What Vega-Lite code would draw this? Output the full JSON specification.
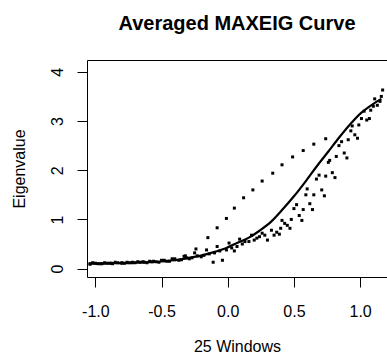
{
  "$schema": "https://vega.github.io/schema/vega-lite/v6.json",
  "autosize": "none",
  "width": 300,
  "height": 217,
  "padding": {"left": 87, "top": 60, "right": 0, "bottom": 79},
  "background": "white",
  "title": {"text": "Averaged MAXEIG Curve", "font": "Liberation Sans", "fontSize": 20, "fontWeight": "bold", "color": "black", "anchor": "middle", "offset": 10, "baseline": "alphabetic"},
  "config": {
    "view": {"stroke": "black", "strokeWidth": 1},
    "axis": {"labelFont": "Liberation Sans", "titleFont": "Liberation Sans", "labelFontSize": 16, "titleFontSize": 16, "titleFontWeight": "normal", "labelColor": "black", "titleColor": "black", "tickColor": "black", "tickSize": 10, "domain": false, "grid": false}
  },
  "datasets": {
    "win": [
      {"s": "w1", "x": -1.04, "y": 0.10}, {"s": "w1", "x": -0.96, "y": 0.10}, {"s": "w1", "x": -0.88, "y": 0.11}, {"s": "w1", "x": -0.80, "y": 0.12}, {"s": "w1", "x": -0.72, "y": 0.13}, {"s": "w1", "x": -0.64, "y": 0.14}, {"s": "w1", "x": -0.56, "y": 0.15}, {"s": "w1", "x": -0.48, "y": 0.17}, {"s": "w1", "x": -0.40, "y": 0.20}, {"s": "w1", "x": -0.32, "y": 0.26}, {"s": "w1", "x": -0.24, "y": 0.40}, {"s": "w1", "x": -0.15, "y": 0.63}, {"s": "w1", "x": -0.08, "y": 0.83}, {"s": "w1", "x": -0.01, "y": 1.02}, {"s": "w1", "x": 0.05, "y": 1.23}, {"s": "w1", "x": 0.12, "y": 1.44}, {"s": "w1", "x": 0.19, "y": 1.60}, {"s": "w1", "x": 0.26, "y": 1.78}, {"s": "w1", "x": 0.34, "y": 1.94}, {"s": "w1", "x": 0.41, "y": 2.11}, {"s": "w1", "x": 0.49, "y": 2.27}, {"s": "w1", "x": 0.57, "y": 2.40}, {"s": "w1", "x": 0.65, "y": 2.53}, {"s": "w1", "x": 0.74, "y": 2.64},
      {"s": "w2", "x": -1.04, "y": 0.09}, {"s": "w2", "x": -0.95, "y": 0.10}, {"s": "w2", "x": -0.87, "y": 0.10}, {"s": "w2", "x": -0.78, "y": 0.11}, {"s": "w2", "x": -0.70, "y": 0.12}, {"s": "w2", "x": -0.61, "y": 0.12}, {"s": "w2", "x": -0.52, "y": 0.13}, {"s": "w2", "x": -0.44, "y": 0.15}, {"s": "w2", "x": -0.35, "y": 0.18}, {"s": "w2", "x": -0.27, "y": 0.22}, {"s": "w2", "x": -0.18, "y": 0.27}, {"s": "w2", "x": -0.10, "y": 0.32}, {"s": "w2", "x": -0.01, "y": 0.38}, {"s": "w2", "x": 0.07, "y": 0.45}, {"s": "w2", "x": 0.16, "y": 0.55}, {"s": "w2", "x": 0.24, "y": 0.65}, {"s": "w2", "x": 0.33, "y": 0.78}, {"s": "w2", "x": 0.41, "y": 0.98}, {"s": "w2", "x": 0.50, "y": 1.22}, {"s": "w2", "x": 0.59, "y": 1.50}, {"s": "w2", "x": 0.67, "y": 1.82}, {"s": "w2", "x": 0.76, "y": 2.16}, {"s": "w2", "x": 0.84, "y": 2.50}, {"s": "w2", "x": 0.93, "y": 2.80}, {"s": "w2", "x": 1.01, "y": 3.05}, {"s": "w2", "x": 1.10, "y": 3.30},
      {"s": "w3", "x": -1.00, "y": 0.11}, {"s": "w3", "x": -0.91, "y": 0.11}, {"s": "w3", "x": -0.83, "y": 0.12}, {"s": "w3", "x": -0.74, "y": 0.12}, {"s": "w3", "x": -0.66, "y": 0.13}, {"s": "w3", "x": -0.57, "y": 0.14}, {"s": "w3", "x": -0.48, "y": 0.16}, {"s": "w3", "x": -0.40, "y": 0.18}, {"s": "w3", "x": -0.31, "y": 0.22}, {"s": "w3", "x": -0.23, "y": 0.26}, {"s": "w3", "x": -0.14, "y": 0.30}, {"s": "w3", "x": -0.06, "y": 0.36}, {"s": "w3", "x": 0.03, "y": 0.42}, {"s": "w3", "x": 0.11, "y": 0.50}, {"s": "w3", "x": 0.20, "y": 0.58}, {"s": "w3", "x": 0.28, "y": 0.68}, {"s": "w3", "x": 0.37, "y": 0.74}, {"s": "w3", "x": 0.45, "y": 0.88}, {"s": "w3", "x": 0.54, "y": 1.08}, {"s": "w3", "x": 0.62, "y": 1.32}, {"s": "w3", "x": 0.71, "y": 1.60}, {"s": "w3", "x": 0.79, "y": 1.95}, {"s": "w3", "x": 0.88, "y": 2.35}, {"s": "w3", "x": 0.96, "y": 2.72}, {"s": "w3", "x": 1.05, "y": 3.02}, {"s": "w3", "x": 1.13, "y": 3.32},
      {"s": "w4", "x": -0.98, "y": 0.10}, {"s": "w4", "x": -0.89, "y": 0.11}, {"s": "w4", "x": -0.80, "y": 0.11}, {"s": "w4", "x": -0.72, "y": 0.12}, {"s": "w4", "x": -0.63, "y": 0.13}, {"s": "w4", "x": -0.54, "y": 0.14}, {"s": "w4", "x": -0.46, "y": 0.15}, {"s": "w4", "x": -0.37, "y": 0.17}, {"s": "w4", "x": -0.29, "y": 0.20}, {"s": "w4", "x": -0.20, "y": 0.24}, {"s": "w4", "x": -0.11, "y": 0.13}, {"s": "w4", "x": -0.04, "y": 0.17}, {"s": "w4", "x": 0.05, "y": 0.36}, {"s": "w4", "x": 0.13, "y": 0.55}, {"s": "w4", "x": 0.22, "y": 0.62}, {"s": "w4", "x": 0.30, "y": 0.58}, {"s": "w4", "x": 0.39, "y": 0.70}, {"s": "w4", "x": 0.47, "y": 0.82}, {"s": "w4", "x": 0.56, "y": 0.98}, {"s": "w4", "x": 0.64, "y": 1.20}, {"s": "w4", "x": 0.73, "y": 1.48}, {"s": "w4", "x": 0.81, "y": 1.85}, {"s": "w4", "x": 0.90, "y": 2.25}, {"s": "w4", "x": 0.98, "y": 2.65}, {"s": "w4", "x": 1.07, "y": 3.05}, {"s": "w4", "x": 1.15, "y": 3.40},
      {"s": "w5", "x": -1.02, "y": 0.12}, {"s": "w5", "x": -0.93, "y": 0.12}, {"s": "w5", "x": -0.85, "y": 0.13}, {"s": "w5", "x": -0.76, "y": 0.13}, {"s": "w5", "x": -0.68, "y": 0.14}, {"s": "w5", "x": -0.59, "y": 0.15}, {"s": "w5", "x": -0.50, "y": 0.17}, {"s": "w5", "x": -0.42, "y": 0.20}, {"s": "w5", "x": -0.33, "y": 0.25}, {"s": "w5", "x": -0.25, "y": 0.32}, {"s": "w5", "x": -0.16, "y": 0.38}, {"s": "w5", "x": -0.08, "y": 0.45}, {"s": "w5", "x": 0.01, "y": 0.52}, {"s": "w5", "x": 0.09, "y": 0.60}, {"s": "w5", "x": 0.18, "y": 0.68}, {"s": "w5", "x": 0.26, "y": 0.72}, {"s": "w5", "x": 0.35, "y": 0.68}, {"s": "w5", "x": 0.43, "y": 0.92}, {"s": "w5", "x": 0.52, "y": 1.30}, {"s": "w5", "x": 0.60, "y": 1.62}, {"s": "w5", "x": 0.69, "y": 1.90}, {"s": "w5", "x": 0.77, "y": 2.20}, {"s": "w5", "x": 0.86, "y": 2.58}, {"s": "w5", "x": 0.94, "y": 2.90}, {"s": "w5", "x": 1.03, "y": 3.20}, {"s": "w5", "x": 1.11, "y": 3.45}, {"s": "w5", "x": 1.17, "y": 3.63},
      {"s": "w6", "x": 0.40, "y": 0.82}, {"s": "w6", "x": 0.48, "y": 1.00}, {"s": "w6", "x": 0.57, "y": 1.20}, {"s": "w6", "x": 0.65, "y": 1.50}, {"s": "w6", "x": 0.74, "y": 1.88}, {"s": "w6", "x": 0.82, "y": 2.28}, {"s": "w6", "x": 0.91, "y": 2.62}, {"s": "w6", "x": 0.99, "y": 2.92}, {"s": "w6", "x": 1.08, "y": 3.22}, {"s": "w6", "x": 1.16, "y": 3.50}
    ],
    "mean": [
      {"x": -1.04, "y": 0.10}, {"x": -0.95, "y": 0.10}, {"x": -0.87, "y": 0.11}, {"x": -0.78, "y": 0.11}, {"x": -0.70, "y": 0.12}, {"x": -0.61, "y": 0.13}, {"x": -0.52, "y": 0.14}, {"x": -0.44, "y": 0.16}, {"x": -0.35, "y": 0.19}, {"x": -0.27, "y": 0.23}, {"x": -0.18, "y": 0.28}, {"x": -0.10, "y": 0.34}, {"x": -0.01, "y": 0.42}, {"x": 0.07, "y": 0.52}, {"x": 0.16, "y": 0.63}, {"x": 0.24, "y": 0.77}, {"x": 0.33, "y": 0.96}, {"x": 0.41, "y": 1.19}, {"x": 0.50, "y": 1.47}, {"x": 0.59, "y": 1.78}, {"x": 0.67, "y": 2.07}, {"x": 0.76, "y": 2.38}, {"x": 0.84, "y": 2.66}, {"x": 0.93, "y": 2.95}, {"x": 1.01, "y": 3.17}, {"x": 1.10, "y": 3.35}, {"x": 1.16, "y": 3.45}
    ]
  },
  "layer": [
    {
      "data": {"name": "win"},
      "mark": {"type": "point", "shape": "square", "filled": true, "size": 9, "color": "black", "opacity": 1, "clip": true},
      "encoding": {
        "x": {"field": "x", "type": "quantitative", "scale": {"domain": [-1.063, 1.203], "nice": false, "zero": false}, "axis": {"values": [-1, -0.5, 0, 0.5, 1], "labelExpr": "datum.value < 0 ? '-' + format(-datum.value, '.1f') : format(datum.value, '.1f')", "title": "25 Windows", "labelPadding": 16, "titlePadding": 19}},
        "y": {"field": "y", "type": "quantitative", "scale": {"domain": [-0.17, 4.24], "nice": false, "zero": false}, "axis": {"values": [0, 1, 2, 3, 4], "format": "d", "title": "Eigenvalue", "labelAngle": -90, "labelAlign": "center", "labelBaseline": "bottom", "labelPadding": 12, "titlePadding": 22}}
      }
    },
    {
      "data": {"name": "mean"},
      "mark": {"type": "line", "color": "black", "strokeWidth": 2.2, "clip": true, "interpolate": "monotone"},
      "encoding": {
        "x": {"field": "x", "type": "quantitative"},
        "y": {"field": "y", "type": "quantitative"}
      }
    }
  ]
}
